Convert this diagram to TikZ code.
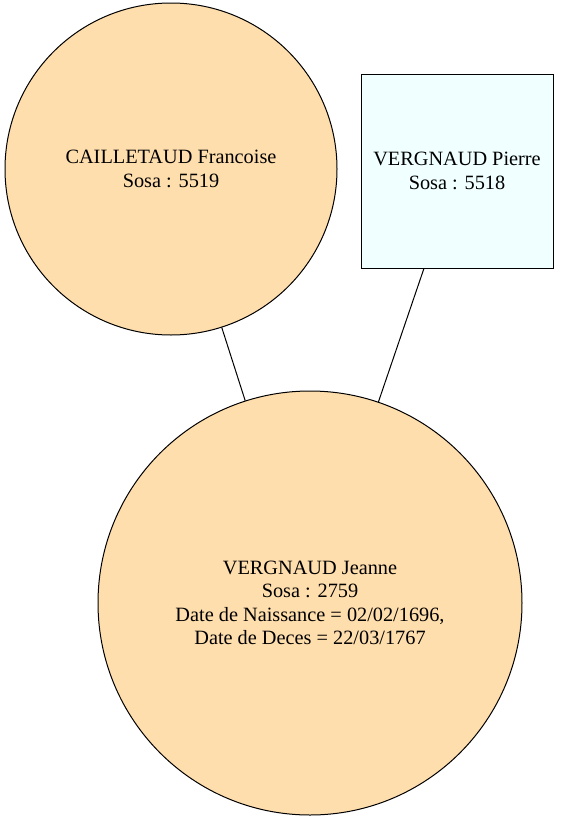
\documentclass[tikz,border=0pt]{standalone}
\usepackage{fontspec}
\setmainfont{Liberation Serif}
\definecolor{peach}{HTML}{FFDEAD}
\definecolor{azurefill}{HTML}{F0FFFF}
\tikzset{
    person/.style={draw=black, line width=1pt, align=center, inner sep=0pt, font=\fontsize{20.3}{23.5}\selectfont},
    female/.style={person, circle, fill=peach},
    male/.style={person, rectangle, fill=azurefill},
}
\begin{document}
\begin{tikzpicture}[x=1pt, y=-1pt]
    \useasboundingbox (0,0) rectangle (560,822);

    % parents
    \node[female, minimum size=332pt] (francoise) at (171,169) {CAILLETAUD Francoise\\Sosa : 5519};
    \node[male, minimum width=192pt, minimum height=194pt] (pierre) at (457,171) {VERGNAUD Pierre\\Sosa : 5518};

    % child
    \node[female, minimum size=424pt] (jeanne) at (310,603) {VERGNAUD Jeanne\\Sosa : 2759\\Date de Naissance = 02/02/1696,\\Date de Deces = 22/03/1767};

    % links
    \draw[line width=1pt] (francoise) -- (jeanne);
    \draw[line width=1pt] (pierre) -- (jeanne);

\end{tikzpicture}
\end{document}
